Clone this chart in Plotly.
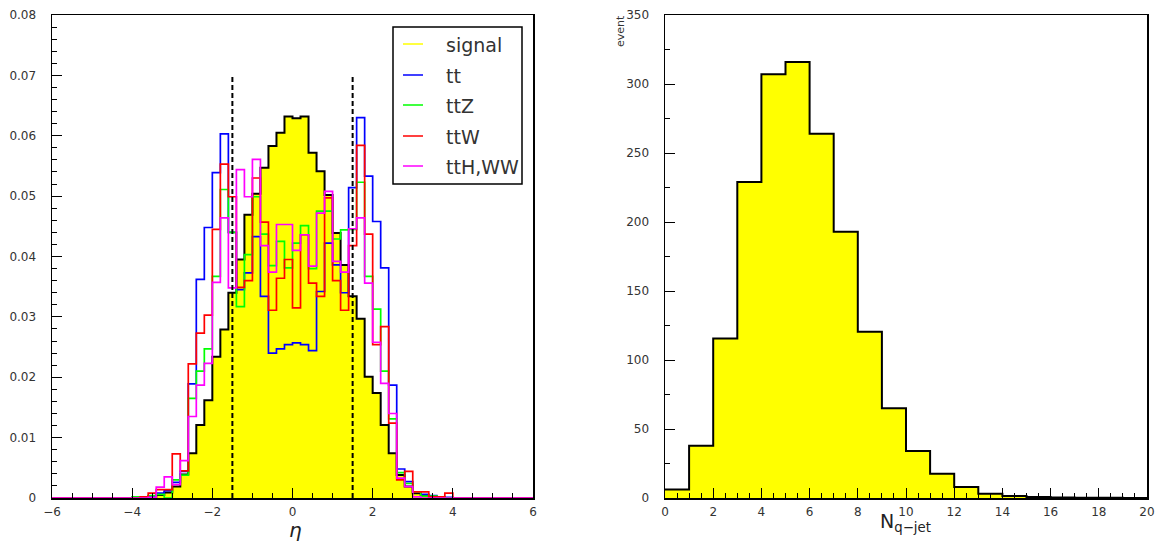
import plotly.graph_objects as go

# ---------------- data ----------------
# left panel: eta histograms, bin width 0.2, listed bins cover eta -4.0 .. 4.0
eta_lo, eta_hi, eta_bw = -6.0, 6.0, 0.2
eta_data_start = -4.0
signal = [0.0, 0.0001, 0.0002, 0.0005, 0.0009, 0.0019, 0.0039, 0.0074, 0.0121, 0.0162,
          0.0234, 0.0279, 0.0340, 0.0395, 0.0469, 0.0504, 0.0547, 0.0583, 0.0605, 0.0632,
          0.0629, 0.0632, 0.0572, 0.0541, 0.0502, 0.0439, 0.0386, 0.0334, 0.0297, 0.0201,
          0.0174, 0.0121, 0.0074, 0.0038, 0.0019, 0.0008, 0.0004, 0.0002, 0.0001, 0.0]
tt = [0.0001, 0.0002, 0.0003, 0.0008, 0.0012, 0.0026, 0.0044, 0.0189, 0.0362, 0.0448,
      0.0539, 0.0603, 0.0440, 0.0345, 0.0373, 0.0433, 0.0334, 0.0240, 0.0247, 0.0254,
      0.0257, 0.0254, 0.0244, 0.0342, 0.0422, 0.0386, 0.0340, 0.0514, 0.0630, 0.0533,
      0.0458, 0.0381, 0.0187, 0.0048, 0.0027, 0.0010, 0.0006, 0.0004, 0.0002, 0.0001]
ttZ = [0.0002, 0.0002, 0.0004, 0.0006, 0.0000, 0.0030, 0.0038, 0.0165, 0.0210, 0.0247,
       0.0367, 0.0511, 0.0440, 0.0317, 0.0403, 0.0499, 0.0437, 0.0385, 0.0425, 0.0381,
       0.0422, 0.0451, 0.0380, 0.0475, 0.0475, 0.0429, 0.0444, 0.0445, 0.0523, 0.0367,
       0.0313, 0.0210, 0.0131, 0.0042, 0.0024, 0.0010, 0.0003, 0.0003, 0.0001, 0.0]
ttW = [0.0, 0.0002, 0.0008, 0.0014, 0.0014, 0.0073, 0.0045, 0.0222, 0.0273, 0.0303,
       0.0445, 0.0553, 0.0499, 0.0349, 0.0360, 0.0530, 0.0457, 0.0311, 0.0364, 0.0395,
       0.0315, 0.0436, 0.0356, 0.0334, 0.0497, 0.0360, 0.0311, 0.0418, 0.0584, 0.0437,
       0.0254, 0.0284, 0.0124, 0.0030, 0.0044, 0.0010, 0.0010, 0.0002, 0.0002, 0.0008]
ttH_WW = [0.0, 0.0, 0.0001, 0.0018, 0.0035, 0.0022, 0.0062, 0.0135, 0.0187, 0.0223,
          0.0357, 0.0464, 0.0348, 0.0544, 0.0499, 0.0561, 0.0418, 0.0374, 0.0453, 0.0453,
          0.0410, 0.0436, 0.0384, 0.0472, 0.0508, 0.0392, 0.0374, 0.0446, 0.0464, 0.0356,
          0.0258, 0.0190, 0.0140, 0.0033, 0.0019, 0.0002, 0.0, 0.0, 0.0, 0.0]
series_names = ["signal", "tt", "ttZ", "ttW", "ttH,WW"]
series_colors = ["#ffff00", "#0000ff", "#00ff00", "#ff0000", "#ff00ff"]
cut_values = [-1.5, 1.5]
cut_height = 0.07

# right panel: number of q-jets, bin width 1 from 0 to 20
nq_edges_lo, nq_bw = 0, 1
nq_events = [6.2, 37.8, 115.5, 229, 307, 316, 264, 193, 120.5, 65,
             34, 17.5, 8.0, 3.0, 1.5, 0.8, 0.4, 0.2, 0.1, 0.0]

# ---------------- helpers ----------------
W, H = 1157, 542
OFF = 0                      # body margin is removed by the post script below
nbins = int(round((eta_hi - eta_lo) / eta_bw))
eta_edges = [round(eta_lo + i * eta_bw, 4) for i in range(nbins + 1)]
pad_left = int(round((eta_data_start - eta_lo) / eta_bw))


def full_hist(vals):
    v = [0.0] * pad_left + list(vals)
    v += [0.0] * (nbins - len(v))
    return v


def step_y(vals):
    return list(vals) + [vals[-1]]


def px(x):
    return (x - OFF) / W


def py(y):
    return 1 - (y - OFF) / H


fig = go.Figure()

# signal filled histogram
sig_full = full_hist(signal)
fig.add_trace(go.Scatter(x=eta_edges, y=step_y(sig_full), mode="lines",
                         line=dict(shape="hv", color="black", width=2),
                         fill="tozeroy", fillcolor=series_colors[0],
                         xaxis="x", yaxis="y", showlegend=False, hoverinfo="skip"))

for vals, col in zip([tt, ttZ, ttW, ttH_WW], series_colors[1:]):
    fig.add_trace(go.Scatter(x=eta_edges, y=step_y(full_hist(vals)), mode="lines",
                             line=dict(shape="hv", color=col, width=1.7),
                             xaxis="x", yaxis="y", showlegend=False, hoverinfo="skip"))

for c in cut_values:
    fig.add_trace(go.Scatter(x=[c, c], y=[0, cut_height], mode="lines",
                             line=dict(color="black", width=2, dash="5px,3px"),
                             xaxis="x", yaxis="y", showlegend=False, hoverinfo="skip"))

# right histogram
nq_edges = [nq_edges_lo + i * nq_bw for i in range(len(nq_events) + 1)]
fig.add_trace(go.Scatter(x=nq_edges, y=step_y(nq_events), mode="lines",
                         line=dict(shape="hv", color="black", width=2),
                         fill="tozeroy", fillcolor="#ffff00",
                         xaxis="x2", yaxis="y2", showlegend=False, hoverinfo="skip"))

tickfont = dict(family="DejaVu Sans", size=12, color="#333")
common = dict(showline=True, linecolor="black", linewidth=1.5, mirror=True,
              ticks="inside", ticklen=10, tickwidth=1, tickcolor="black",
              showgrid=False, zeroline=False, tickfont=tickfont, automargin=False)

y_dom = [py(498), py(15)]
fig.update_layout(
    width=W, height=H, autosize=False,
    margin=dict(l=0, r=0, t=0, b=0, pad=0),
    paper_bgcolor="white", plot_bgcolor="white",
    hovermode=False,
    xaxis=dict(domain=[px(52), px(533)], range=[eta_lo, eta_hi], dtick=2, tick0=0,
               minor=dict(dtick=0.5, ticklen=5, ticks="inside", tickcolor="black"),
               anchor="y", ticklabelstandoff=2, **common),
    yaxis=dict(domain=y_dom, range=[0, 0.08], dtick=0.01,
               minor=dict(dtick=0.002, ticklen=5, ticks="inside", tickcolor="black"),
               anchor="x", ticklabelstandoff=12, **common),
    xaxis2=dict(domain=[px(665), px(1147)], range=[0, 20], dtick=2,
                minor=dict(dtick=0.5, ticklen=5, ticks="inside", tickcolor="black"),
                anchor="y2", ticklabelstandoff=2, **common),
    yaxis2=dict(domain=y_dom, range=[0, 350], dtick=50,
                minor=dict(dtick=25, ticklen=5, ticks="inside", tickcolor="black"),
                anchor="x2", ticklabelstandoff=12, **common),
)

# axis titles
fig.add_annotation(x=px(295), y=py(530), xref="paper", yref="paper", text="<i>η</i>",
                   showarrow=False, font=dict(family="DejaVu Sans", size=20, color="#222"),
                   xanchor="center", yanchor="middle")
fig.add_annotation(x=px(905), y=py(522), xref="paper", yref="paper",
                   text="N<sub>q−jet</sub>", showarrow=False,
                   font=dict(family="DejaVu Sans", size=19, color="#222"),
                   xanchor="center", yanchor="middle")
fig.add_annotation(x=px(620), y=py(13), xref="paper", yref="paper", text="event",
                   textangle=-90, showarrow=False,
                   font=dict(family="DejaVu Sans", size=11, color="#333"),
                   xanchor="center", yanchor="top")

# legend box (drawn manually, ROOT style)
fig.add_shape(type="rect", xref="paper", yref="paper", x0=px(393), x1=px(522),
              y0=py(184), y1=py(27), line=dict(color="black", width=1.5),
              fillcolor="white", layer="above")
leg_y = [44, 75, 105, 136, 166]
for name, col, yy in zip(series_names, series_colors, leg_y):
    fig.add_shape(type="line", xref="paper", yref="paper", x0=px(403), x1=px(423),
                  y0=py(yy), y1=py(yy), line=dict(color=col, width=1.5), layer="above")
    fig.add_annotation(x=px(444), y=py(yy + 1), xref="paper", yref="paper", text=name,
                       showarrow=False, xanchor="left", yanchor="middle",
                       font=dict(family="DejaVu Sans", size=19, color="#333"))

fig.write_html("out.html",
               config={"displayModeBar": False, "staticPlot": True},
               post_script="document.body.style.margin='0px';"
                           "document.body.style.overflow='hidden';")
